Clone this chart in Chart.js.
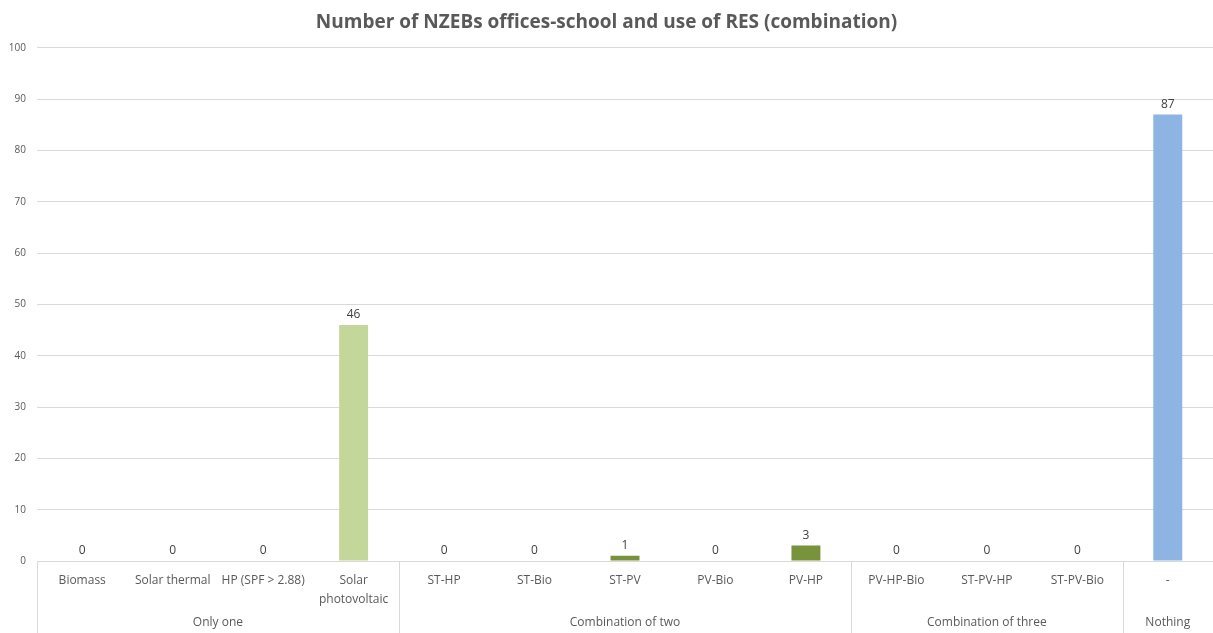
<!DOCTYPE html>
<html>
<head>
<meta charset="utf-8">
<script src="https://cdn.jsdelivr.net/npm/chart.js@4"></script>
<style>
  body { margin: 0; background: #fff; }
  #wrap { width: 1213px; height: 633px; }
</style>
</head>
<body>
<div id="wrap"><canvas id="chart"></canvas></div>
<script>
// categories (multi-line where the label wraps)
const categories = [
    'Biomass', 'Solar thermal', 'HP (SPF > 2.88)', ['Solar', 'photovoltaic'],
    'ST-HP', 'ST-Bio', 'ST-PV', 'PV-Bio', 'PV-HP',
    'PV-HP-Bio', 'ST-PV-HP', 'ST-PV-Bio',
    '-'
];
const counts = [0, 0, 0, 46, 0, 0, 1, 0, 3, 0, 0, 0, 87];

// outer group labels and how many categories each covers
const groupNames = ['Only one', 'Combination of two', 'Combination of three', 'Nothing'];
const groupSizes = [4, 5, 3, 1];

const barColors = [
    '#c4d79b', '#c4d79b', '#c4d79b', '#c4d79b',
    '#77933c', '#77933c', '#77933c', '#77933c', '#77933c',
    '#77933c', '#77933c', '#77933c',
    '#8db4e2'
];

const FONT = '"Open Sans", "Liberation Sans", sans-serif';

// draws the value above each bar
const valueLabels = {
    id: 'valueLabels',
    afterDatasetsDraw(chart) {
        const ctx = chart.ctx;
        const meta = chart.getDatasetMeta(0);
        ctx.save();
        ctx.font = '12px ' + FONT;
        ctx.fillStyle = '#404040';
        ctx.textAlign = 'center';
        ctx.textBaseline = 'bottom';
        meta.data.forEach((bar, i) => {
            ctx.fillText(String(counts[i]), bar.x, bar.y - 4);
        });
        ctx.restore();
    }
};

// group separators and outer labels under the axis
const groupAxis = {
    id: 'groupAxis',
    afterDraw(chart) {
        const ctx = chart.ctx;
        const x = chart.scales.x;
        const top = chart.chartArea.bottom;
        const bottom = chart.height;
        const edge = i => {
            if (i <= 0) return x.left;
            if (i >= categories.length) return x.right;
            return (x.getPixelForValue(i - 1) + x.getPixelForValue(i)) / 2;
        };
        ctx.save();
        ctx.strokeStyle = '#d9d9d9';
        ctx.lineWidth = 1;
        ctx.font = '12px ' + FONT;
        ctx.fillStyle = '#595959';
        ctx.textAlign = 'center';
        ctx.textBaseline = 'middle';
        let start = 0;
        groupSizes.forEach((n, g) => {
            const l = edge(start), r = edge(start + n);
            ctx.beginPath();
            ctx.moveTo(Math.round(l) + 0.5, top);
            ctx.lineTo(Math.round(l) + 0.5, bottom);
            ctx.stroke();
            ctx.fillText(groupNames[g], (l + r) / 2, 623);
            start += n;
        });
        ctx.restore();
    }
};

new Chart(document.getElementById('chart').getContext('2d'), {
    type: 'bar',
    data: {
        labels: categories,
        datasets: [{
            data: counts,
            backgroundColor: barColors,
            categoryPercentage: 1,
            barPercentage: 0.32
        }]
    },
    options: {
        responsive: true,
        maintainAspectRatio: false,
        animation: false,
        layout: { padding: { right: 0, left: 0, bottom: 0 } },
        plugins: {
            legend: { display: false },
            tooltip: { enabled: false },
            title: {
                display: true,
                text: 'Number of NZEBs offices-school and use of RES (combination)',
                color: '#595959',
                font: { family: FONT, size: 19, weight: 'bold' },
                padding: { top: 11, bottom: 14 }
            }
        },
        scales: {
            x: {
                grid: { display: false, drawTicks: false },
                border: { display: true, color: '#d9d9d9' },
                ticks: {
                    color: '#595959',
                    font: { family: FONT, size: 12, lineHeight: 1.6 },
                    maxRotation: 0,
                    autoSkip: false,
                    padding: 10
                },
                afterFit(scale) { scale.height = 72; }
            },
            y: {
                min: 0,
                max: 100,
                border: { display: false },
                grid: { color: '#d9d9d9', drawTicks: false },
                ticks: {
                    stepSize: 10,
                    color: '#595959',
                    font: { family: FONT, size: 10 },
                    padding: 11
                },
                afterFit(scale) { scale.width = 37; }
            }
        }
    },
    plugins: [valueLabels, groupAxis]
});
</script>
</body>
</html>
